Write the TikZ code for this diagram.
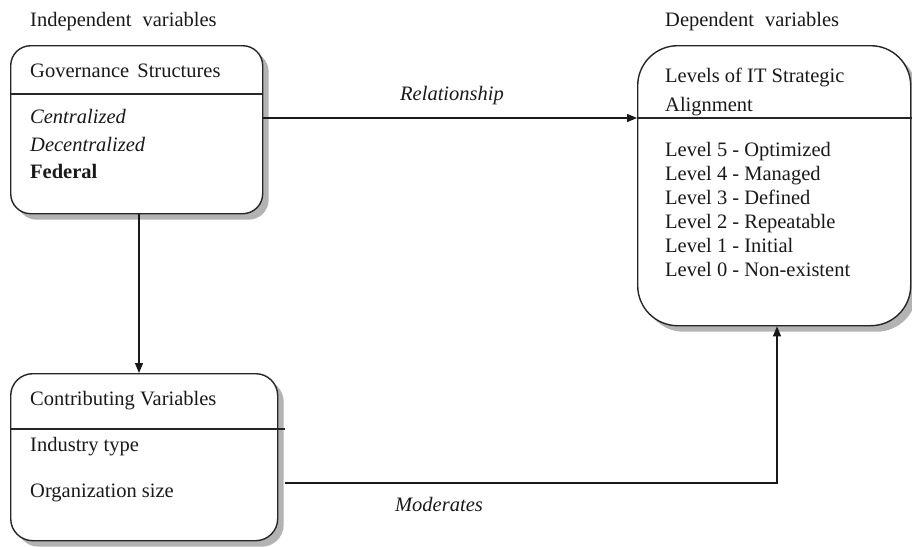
\documentclass[tikz,border=0pt]{standalone}
\usepackage{fontspec}
\setmainfont{Liberation Serif}
\usetikzlibrary{shadows,arrows.meta}
\begin{document}
\begin{tikzpicture}[x=1pt,y=-1pt,
  box/.style={draw=black!85, line width=1.4pt, fill=white, rounded corners=#1,
    inner sep=0pt, anchor=north west,
    drop shadow={shadow xshift=6pt, shadow yshift=-6pt, fill=black!35, opacity=0.85}},
  txt/.style={anchor=base west, inner sep=0pt, font=\fontsize{20.5}{24}\selectfont, text=black!90},
  lbl/.style={anchor=base, inner sep=0pt, font=\fontsize{20.5}{24}\selectfont\itshape, text=black!90},
  divider/.style={draw=black!85, line width=1.4pt},
  conn/.style={draw=black!90, line width=1.2pt, -{Triangle[length=10pt,width=8pt]}}]
\useasboundingbox (0,0) rectangle (912,546);

% boxes
\node[box=20pt, minimum width=252pt, minimum height=168pt] (gov) at (10,45) {};
\node[box=40pt, minimum width=273pt, minimum height=280pt] (align) at (637,45) {};
\node[box=22pt, minimum width=267pt, minimum height=167pt] (contrib) at (10,373) {};

% dividers
\draw[divider] (gov.west |- 0,94) -- (gov.east |- 0,94);
\draw[divider] (align.west |- 0,118) -- (912,118);
\draw[divider] (contrib.west |- 0,429) -- (285,429);

% headings
\node[txt] (indep) at (30,27) {Independent\hspace{6pt} variables};
\node[txt] (dep) at (665,27) {Dependent\hspace{6pt} variables};

% governance box text
\node[txt] (govt) at (30,77) {Governance\hspace{3pt} Structures};
\node[txt, font=\fontsize{20.5}{24}\selectfont\itshape] (cen) at (30,123) {Centralized};
\node[txt, font=\fontsize{20.5}{24}\selectfont\itshape] (dec) at (30,151) {Decentralized};
\node[txt, font=\fontsize{20.5}{24}\selectfont\bfseries] (fed) at (30,178) {Federal};

% alignment box text
\node[txt] (al1) at (665,82) {Levels of IT Strategic};
\node[txt] (al2) at (665,111) {Alignment};
\node[txt] (l5) at (665,156) {Level 5 - Optimized};
\node[txt] (l4) at (665,180) {Level 4 - Managed};
\node[txt] (l3) at (665,204) {Level 3 - Defined};
\node[txt] (l2) at (665,228) {Level 2 - Repeatable};
\node[txt] (l1) at (665,252) {Level 1 - Initial};
\node[txt] (l0) at (665,276) {Level 0 - Non-existent};

% contributing box text
\node[txt] (cont) at (30,405) {Contributing Variables};
\node[txt] (ind) at (30,451) {Industry type};
\node[txt] (org) at (30,497) {Organization size};

% connectors
\draw[conn] (gov.east |- 0,118) -- (align.west |- 0,118);
\draw[conn] (gov.south -| 139,0) -- (contrib.north -| 139,0);
\coordinate (mstart) at (285,483);
\draw[conn] (mstart) -| (align.south -| 777,0);

% connector labels
\node[lbl] (rel) at (452,100) {Relationship};
\node[lbl] (mod) at (439,511) {Moderates};
\end{tikzpicture}
\end{document}
